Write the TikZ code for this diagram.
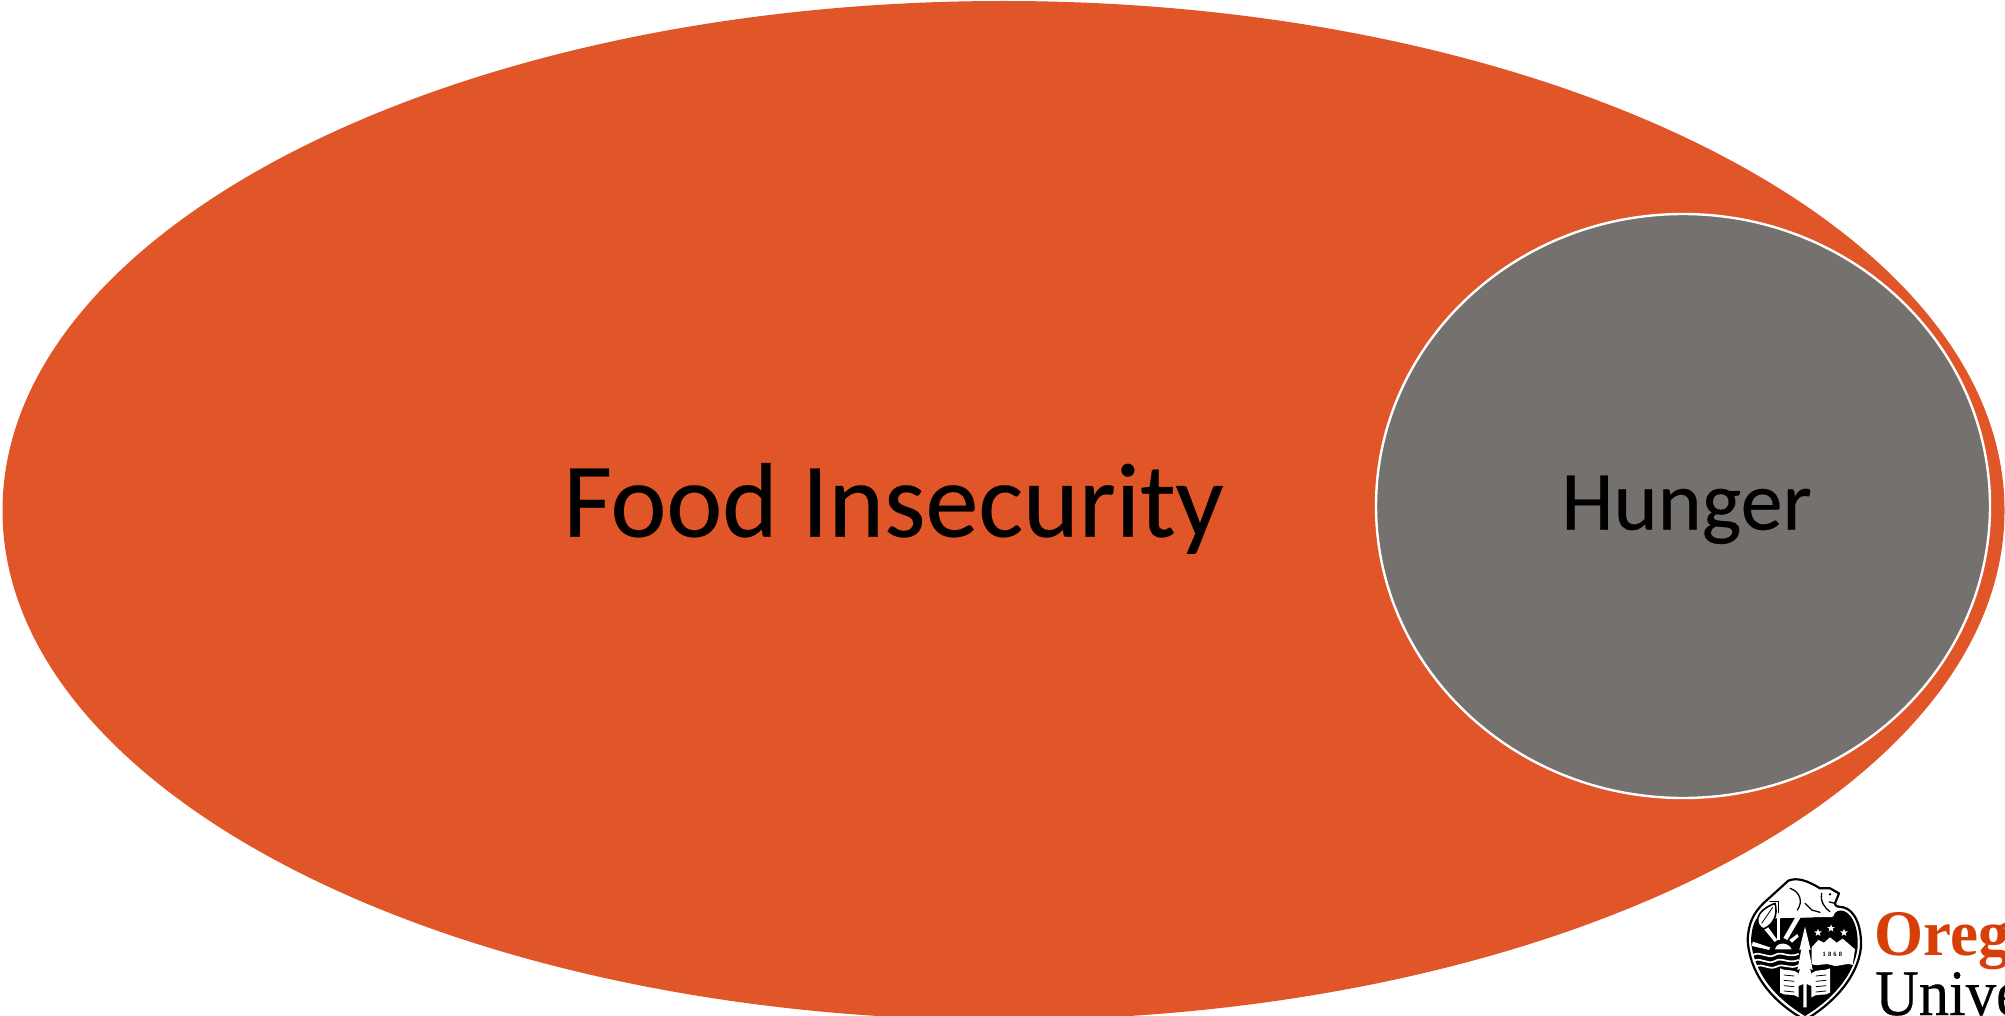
\documentclass[tikz,border=0pt]{standalone}
\usepackage{fontspec}
\usetikzlibrary{shapes.geometric}
\setmainfont[FakeBold=0.25]{Carlito}
\newfontfamily\logofont{Liberation Serif}
\newfontfamily\logofontheavy[FakeBold=0.5]{Liberation Serif}
\definecolor{foodorange}{HTML}{E05629}
\definecolor{hungergray}{HTML}{75716F}
\definecolor{osuorange}{HTML}{D73F09}
\tikzset{
  biglabel/.style={inner sep=0pt,anchor=base,text=black},
  logoline/.style={draw=black,line width=1.5pt,fill=white,line join=round},
  logofill/.style={fill=black,draw=none},
  whitefill/.style={fill=white,draw=none},
  waveline/.style={draw=white,line width=1.7pt,line cap=round},
  pageline/.style={draw=black,line width=.8pt,line cap=round},
  beaverline/.style={draw=black,line width=1.3pt,line cap=round}
}
\begin{document}
\begin{tikzpicture}[x=1pt,y=-1pt]
\useasboundingbox (0,0) rectangle (2005,1016);
\begin{scope}
\clip (0,0) rectangle (2005,1016);
\fill[foodorange] (1003.5,510.5) ellipse [x radius=1001,y radius=509.5];
\draw[white,line width=2.4pt,fill=hungergray] (1683,506) ellipse [x radius=307,y radius=292];
\node[biglabel,font=\fontsize{106}{106}\selectfont] (food) at (893.5,536.7) {Food Insecurity};
\node[biglabel,font=\fontsize{84}{84}\selectfont] (hunger) at (1686.5,529.6) {Hunger};
% logo
\begin{scope}[shift={(1720,860)},x=0.3333pt,y=-0.3333pt]
 % shield
 \path[logoline,line width=2.2pt] (83,240) .. controls (85,190) and (100,160) .. (130,130) -- (205,62) .. controls (230,52) and (260,60) .. (300,85) -- (330,85) -- (357,100) -- (345,130) .. controls (345,140) and (355,140) .. (370,142) .. controls (405,150) and (425,200) .. (423,260) .. controls (415,350) and (340,430) .. (255,480) .. controls (165,430) and (90,350) .. (83,240) -- cycle;
 % black field
 \path[logofill] (93,240) .. controls (95,210) and (100,190) .. (110,175) -- (175,175) -- (340,170) .. controls (345,150) and (360,150) .. (372,153) .. controls (400,165) and (415,205) .. (413,260) .. controls (405,345) and (335,420) .. (255,468) .. controls (175,420) and (100,345) .. (93,240) -- cycle;
 % sun rays
 \path[whitefill] (226,172) -- (242,172) -- (202,240) -- (190,234) -- cycle;
 \path[whitefill] (172,172) -- (180,172) -- (180,240) -- (172,240) -- cycle;
 \path[whitefill] (130,205) -- (142,198) -- (172,240) -- (164,246) -- cycle;
 \path[whitefill] (98,245) -- (150,262) -- (148,270) -- (96,258) -- cycle;
 \path[whitefill] (165,268) .. controls (170,245) and (205,245) .. (215,268) -- cycle;
 \path[whitefill] (208,240) -- (232,222) -- (236,230) -- (216,248) -- cycle;
 % waves
 \draw[waveline] (98,285) .. controls (125,272) and (140,298) .. (165,285) .. controls (185,272) and (205,295) .. (235,282);
 \draw[waveline] (100,303) .. controls (125,290) and (140,316) .. (165,303) .. controls (185,290) and (205,313) .. (235,300);
 \draw[waveline] (108,320) .. controls (130,308) and (145,332) .. (170,320) .. controls (190,308) and (210,330) .. (235,316);
 % mountains
 \path[whitefill] (275,262) -- (295,240) -- (312,248) -- (330,232) -- (350,248) -- (368,236) -- (405,268) -- (398,315) .. controls (375,305) and (355,325) .. (335,315) .. controls (315,306) and (295,322) .. (275,312) -- cycle;
 \node[font=\logofont\bfseries\fontsize{6.5}{6.5}\selectfont,inner sep=0pt,text=black] (year) at (337,283) {1\,\,8\,\,6\,\,8};
 % stars
 \foreach \sx/\sy/\sn in {294/218/a,333/205/b,372/218/c}
   \node[star,star points=5,star point ratio=2.4,whitefill,inner sep=0pt,minimum size=8pt] (star\sn) at (\sx,\sy) {};
 % books
 \path[whitefill] (180,325) .. controls (195,335) and (220,325) .. (236,340) -- (236,412) .. controls (220,398) and (195,410) .. (180,398) -- cycle;
 \path[whitefill] (330,325) .. controls (315,335) and (290,325) .. (274,340) -- (274,412) .. controls (290,398) and (315,410) .. (330,398) -- cycle;
 \foreach \ly in {345,361,377,393}{
   \draw[pageline] (192,\ly) -- (222,\ly+3);
   \draw[pageline] (318,\ly) -- (288,\ly+3);
 }
 % tree
 \path[whitefill] (255,200) -- (272,270) -- (266,268) -- (278,330) -- (270,326) -- (284,382) -- (260,372) -- (260,442) -- (250,442) -- (250,372) -- (226,382) -- (240,326) -- (232,330) -- (244,268) -- (238,270) -- cycle;
 % log under beaver
 \path[whitefill] (172,158) -- (340,156) -- (336,171) -- (172,173) -- cycle;
 % tail
 \path[logoline,line width=1.6pt] (165,130) .. controls (175,165) and (160,195) .. (130,207) .. controls (105,195) and (100,155) .. (165,130) -- cycle;
 \draw[black,line width=.8pt] (158,142) -- (125,190);
 % beaver details
 \draw[beaverline] (210,85) .. controls (240,95) and (250,125) .. (232,150);
 \draw[beaverline] (150,125) -- (175,125) -- (175,158);
 \draw[beaverline] (305,100) .. controls (300,125) and (315,145) .. (330,155);
 \draw[beaverline] (255,130) -- (275,150) -- (300,157);
 \draw[beaverline] (345,130) -- (328,126);
 \fill[black] (330,103) circle (4);
\end{scope}
\node[inner sep=0pt,anchor=base west,text=osuorange,xscale=.97,font=\logofont\bfseries\fontsize{65}{65}\selectfont] (oreg) at (1874,955) {Oreg};
\node[inner sep=0pt,anchor=base west,text=black,xscale=.93,font=\logofontheavy\fontsize{65}{65}\selectfont] (univ) at (1875,1015) {Unive};
\end{scope}
\end{tikzpicture}
\end{document}
